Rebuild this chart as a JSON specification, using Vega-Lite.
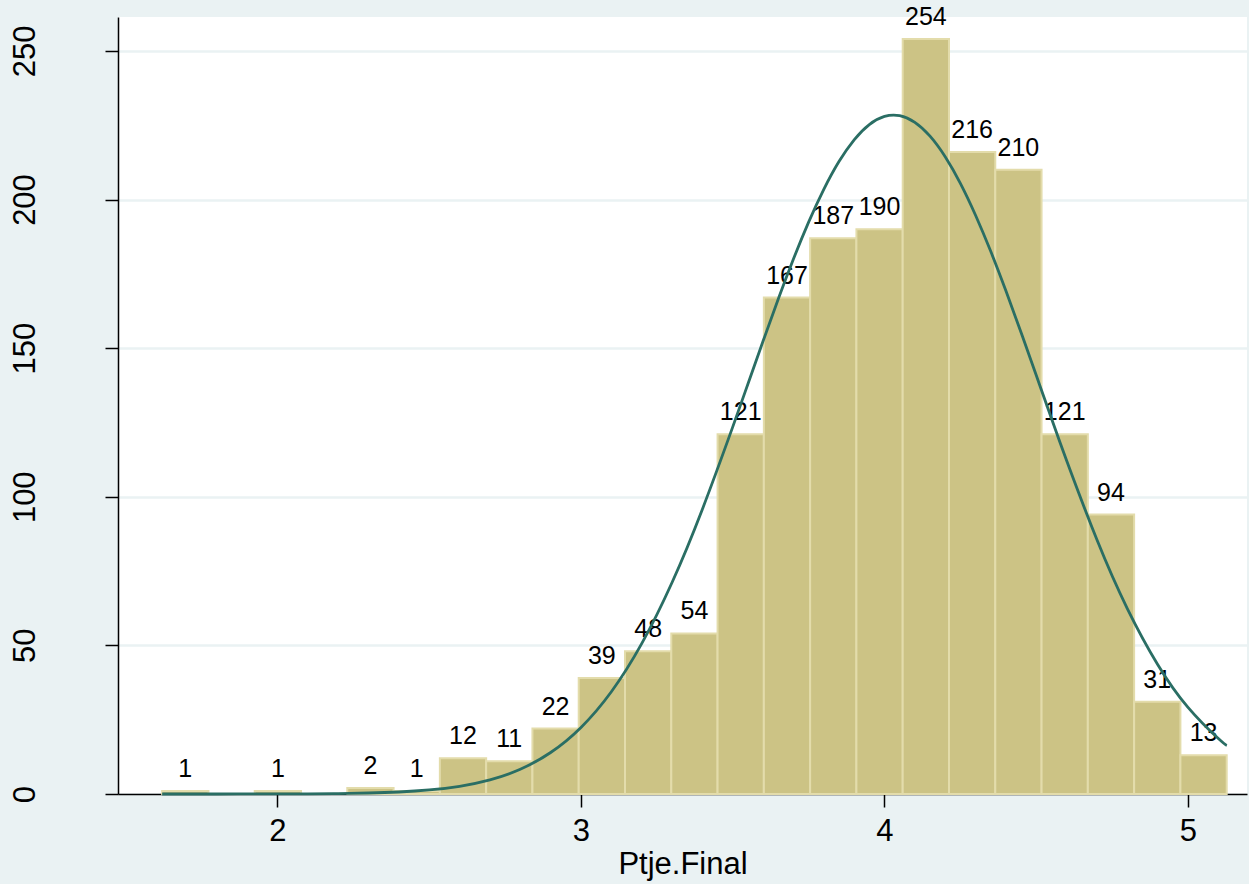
{
  "$schema": "https://vega.github.io/schema/vega-lite/v6.json",
  "autosize": "none",
  "width": 1129,
  "height": 777,
  "padding": {"left": 118, "top": 17, "right": 2, "bottom": 90},
  "background": "#EAF2F3",
  "config": {
    "view": {"fill": "#FFFFFF", "stroke": null},
    "font": "Liberation Sans",
    "axis": {"labelFont": "Liberation Sans", "titleFont": "Liberation Sans", "labelColor": "#000000", "titleColor": "#000000", "domainColor": "#000000", "tickColor": "#000000", "domainWidth": 1.5, "tickWidth": 1.5}
  },
  "datasets": {
    "bins": [
      {"x0": 1.62, "x1": 1.7725, "mid": 1.69625, "count": 1},
      {"x0": 1.925, "x1": 2.0775, "mid": 2.00125, "count": 1},
      {"x0": 2.23, "x1": 2.3825, "mid": 2.30625, "count": 2},
      {"x0": 2.3825, "x1": 2.535, "mid": 2.45875, "count": 1},
      {"x0": 2.535, "x1": 2.6875, "mid": 2.61125, "count": 12},
      {"x0": 2.6875, "x1": 2.84, "mid": 2.76375, "count": 11},
      {"x0": 2.84, "x1": 2.9925, "mid": 2.91625, "count": 22},
      {"x0": 2.9925, "x1": 3.145, "mid": 3.06875, "count": 39},
      {"x0": 3.145, "x1": 3.2975, "mid": 3.22125, "count": 48},
      {"x0": 3.2975, "x1": 3.45, "mid": 3.37375, "count": 54},
      {"x0": 3.45, "x1": 3.6025, "mid": 3.52625, "count": 121},
      {"x0": 3.6025, "x1": 3.755, "mid": 3.67875, "count": 167},
      {"x0": 3.755, "x1": 3.9075, "mid": 3.83125, "count": 187},
      {"x0": 3.9075, "x1": 4.06, "mid": 3.98375, "count": 190},
      {"x0": 4.06, "x1": 4.2125, "mid": 4.13625, "count": 254},
      {"x0": 4.2125, "x1": 4.365, "mid": 4.28875, "count": 216},
      {"x0": 4.365, "x1": 4.5175, "mid": 4.44125, "count": 210},
      {"x0": 4.5175, "x1": 4.67, "mid": 4.59375, "count": 121},
      {"x0": 4.67, "x1": 4.8225, "mid": 4.74625, "count": 94},
      {"x0": 4.8225, "x1": 4.975, "mid": 4.89875, "count": 31},
      {"x0": 4.975, "x1": 5.1275, "mid": 5.05125, "count": 13}
    ],
    "curve": [
      {"x": 1.62, "y": 0.0},
      {"x": 1.7, "y": 0.002},
      {"x": 1.8, "y": 0.004},
      {"x": 1.9, "y": 0.011},
      {"x": 2.0, "y": 0.028},
      {"x": 2.1, "y": 0.066},
      {"x": 2.2, "y": 0.15},
      {"x": 2.3, "y": 0.33},
      {"x": 2.4, "y": 0.68},
      {"x": 2.5, "y": 1.36},
      {"x": 2.6, "y": 2.6},
      {"x": 2.7, "y": 4.76},
      {"x": 2.8, "y": 8.33},
      {"x": 2.9, "y": 13.97},
      {"x": 3.0, "y": 22.41},
      {"x": 3.1, "y": 34.41},
      {"x": 3.2, "y": 50.58},
      {"x": 3.3, "y": 71.15},
      {"x": 3.4, "y": 95.83},
      {"x": 3.5, "y": 123.51},
      {"x": 3.55, "y": 137.95},
      {"x": 3.6, "y": 152.39},
      {"x": 3.65, "y": 166.53},
      {"x": 3.7, "y": 179.97},
      {"x": 3.75, "y": 192.39},
      {"x": 3.8, "y": 203.43},
      {"x": 3.85, "y": 212.77},
      {"x": 3.9, "y": 220.1},
      {"x": 3.95, "y": 225.22},
      {"x": 4.0, "y": 227.95},
      {"x": 4.05, "y": 228.2},
      {"x": 4.1, "y": 225.97},
      {"x": 4.15, "y": 221.32},
      {"x": 4.2, "y": 214.4},
      {"x": 4.25, "y": 205.45},
      {"x": 4.3, "y": 194.72},
      {"x": 4.35, "y": 182.56},
      {"x": 4.4, "y": 169.28},
      {"x": 4.45, "y": 155.25},
      {"x": 4.5, "y": 140.86},
      {"x": 4.55, "y": 126.39},
      {"x": 4.6, "y": 112.18},
      {"x": 4.7, "y": 85.52},
      {"x": 4.8, "y": 62.4},
      {"x": 4.9, "y": 43.59},
      {"x": 5.0, "y": 29.15},
      {"x": 5.1, "y": 18.64},
      {"x": 5.128, "y": 16.33}
    ]
  },
  "layer": [
    {
      "data": {"name": "bins"},
      "mark": {"type": "rect", "fill": "#CCC385", "stroke": "#E3DCAB", "strokeWidth": 2},
      "encoding": {
        "x": {"field": "x0", "type": "quantitative", "scale": {"domain": [1.4745, 5.1944], "nice": false, "zero": false},
          "axis": {"values": [2, 3, 4, 5], "format": "d", "title": "Ptje.Final", "labelFontSize": 31, "titleFontSize": 31, "titleFontWeight": "normal", "tickSize": 13, "labelPadding": 9, "titlePadding": 3, "grid": false}},
        "x2": {"field": "x1"},
        "y": {"field": "count", "type": "quantitative", "scale": {"domain": [0, 261.4], "nice": false},
          "axis": {"values": [0, 50, 100, 150, 200, 250], "title": null, "labelFontSize": 31, "labelAngle": -90, "tickSize": 13, "labelPadding": 64, "grid": true, "gridColor": "#EAF2F3", "gridWidth": 2.5}},
        "y2": {"datum": 0}
      }
    },
    {
      "data": {"name": "bins"},
      "mark": {"type": "text", "fontSize": 25, "baseline": "alphabetic", "align": "center", "dy": -14, "color": "#000000"},
      "encoding": {
        "x": {"field": "mid", "type": "quantitative"},
        "y": {"field": "count", "type": "quantitative"},
        "text": {"field": "count", "type": "quantitative"}
      }
    },
    {
      "data": {"name": "curve"},
      "mark": {"type": "line", "color": "#2A6E64", "strokeWidth": 2.8, "interpolate": "natural"},
      "encoding": {
        "x": {"field": "x", "type": "quantitative"},
        "y": {"field": "y", "type": "quantitative"}
      }
    }
  ]
}
